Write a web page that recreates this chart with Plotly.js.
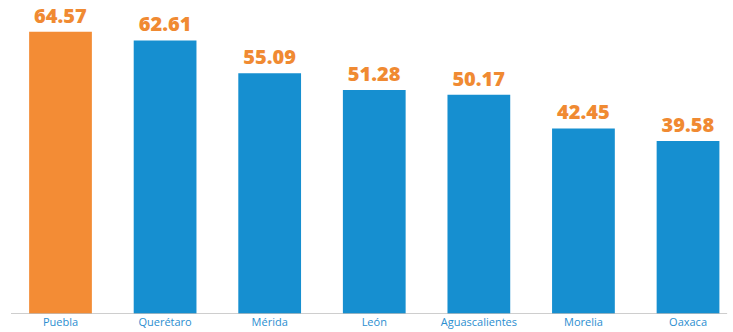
<!DOCTYPE html>
<html>
<head>
<meta charset="utf-8">
<script src="https://cdn.plot.ly/plotly-3.0.1.min.js"></script>
<style>html,body{margin:0;padding:0;background:#fff;}#chart{width:733px;height:332px;}</style>
</head>
<body>
<div id="chart"></div>
<script>
const cities = ["Puebla", "Querétaro", "Mérida", "León", "Aguascalientes", "Morelia", "Oaxaca"];
const values = [64.57, 62.61, 55.09, 51.28, 50.17, 42.45, 39.58];
const labels = ["64.57", "62.61", "55.09", "51.28", "50.17", "42.45", "39.58"];

const barColors = cities.map((c, i) => i === 0 ? "#F38C35" : "#168FD0");

const trace = {
  type: "bar",
  x: cities,
  y: values,
  text: labels,
  texttemplate: "%{text}",
  textposition: "outside",
  cliponaxis: false,
  textfont: {family: "Open Sans", size: 20, color: "#F08A32", weight: 800},
  marker: {color: barColors, line: {width: 0}},
  width: 0.6,
  hoverinfo: "none"
};

const layout = {
  width: 733,
  height: 332,
  margin: {l: 0, r: 0, t: 0, b: 18},
  paper_bgcolor: "#ffffff",
  plot_bgcolor: "#ffffff",
  showlegend: false,
  xaxis: {
    type: "category",
    range: [-0.5785, 6.43],
    showgrid: false,
    zeroline: false,
    showline: false,
    ticks: "",
    tickfont: {family: "Open Sans", size: 11, color: "#2B8ED0"},
    ticklabelstandoff: 0
  },
  yaxis: {
    range: [0, 71.85],
    visible: false,
    showgrid: false,
    zeroline: false
  },
  shapes: [{
    type: "line", xref: "paper", yref: "y",
    x0: 0.015, x1: 0.992, y0: 0, y1: 0,
    line: {color: "#BEBEBE", width: 1.5}
  }]
};

Plotly.newPlot("chart", [trace], layout, {displayModeBar: false, staticPlot: true});
</script>
</body>
</html>
